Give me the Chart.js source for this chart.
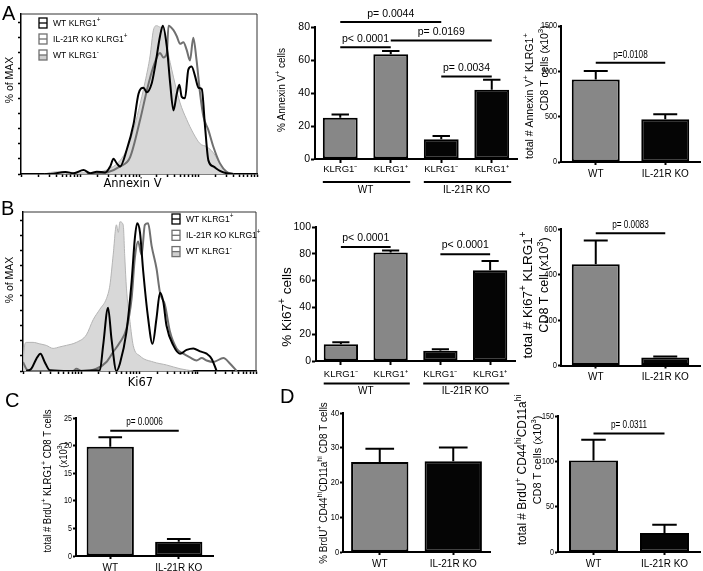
<!DOCTYPE html>
<html>
<head>
<meta charset="utf-8">
<script src="https://cdn.jsdelivr.net/npm/chart.js@4.4.1/dist/chart.umd.min.js"></script>
<style>
  html, body { margin: 0; padding: 0; background: #fff; }
  #wrap { position: relative; width: 703px; height: 571px; overflow: hidden; }
  #wrap canvas { position: absolute; left: 0; top: 0; }
</style>
</head>
<body>
<div id="wrap">
  <canvas id="histA" width="703" height="571"></canvas>
  <canvas id="annexinPct" width="703" height="571"></canvas>
  <canvas id="annexinTotal" width="703" height="571"></canvas>
  <canvas id="histB" width="703" height="571"></canvas>
  <canvas id="ki67Pct" width="703" height="571"></canvas>
  <canvas id="ki67Total" width="703" height="571"></canvas>
  <canvas id="brduTotal" width="703" height="571"></canvas>
  <canvas id="brduPct" width="703" height="571"></canvas>
  <canvas id="brduCd44Total" width="703" height="571"></canvas>
</div>
<script>
// ---- data ----
// flow histograms: [channel (0-1000, log display), % of max]
const annexinWtPos = [[100,0],[124,0],[188,1.3],[223,0.5],[265,2.6],[293,0.5],[321,1.5],[357,1],[378,5],[392,10],[406,7],[420,5],[448,16],[477,33],[498,53],[519,57],[533,54],[554,60],[568,71],[589,91],[601,98],[618,84],[632,60],[646,42],[660,53],[671,59],[681,51],[695,50],[709,69],[723,71],[737,65],[752,57],[766,56],[780,31],[794,9],[815,5],[843,2],[871,0.5],[900,0]]
const annexinKoPos = [[279,0],[364,1],[420,5],[462,11],[505,36],[533,55],[561,71],[589,80],[603,77],[618,80],[625,98],[646,95],[660,91],[674,86],[688,87],[702,82],[716,75],[730,90],[744,75],[759,53],[773,38],[794,29],[815,18],[843,7],[871,1.5],[900,0]]
const annexinWtNeg = [[100,0],[124,1],[166,1.5],[223,1],[279,0.7],[350,2],[392,5],[420,9],[448,16],[477,29],[498,42],[526,61],[547,78],[561,95],[575,98],[589,97],[603,96],[618,84],[646,64],[674,47],[702,36],[730,27],[759,20],[787,18],[815,14],[843,7],[871,1.5],[900,0]]

const ki67WtPos = [[14,0],[36,1.5],[57,8],[75,11.5],[93,6],[115,0.5],[201,0],[330,0.5],[344,17],[365,42],[380,21],[401,0],[416,5],[444,26],[466,59],[480,88],[490,98],[502,92],[516,66],[537,35],[556,18],[573,35],[588,52],[602,46],[616,30],[645,17],[674,11.5],[702,14],[731,15],[760,13],[788,11.5],[810,8],[831,0]]
const ki67KoPos = [[0,6],[14,1.5],[29,0],[215,0],[229,1.5],[251,0],[315,1.5],[358,6],[387,12.6],[416,19],[444,28],[466,48],[480,75],[494,86],[509,77],[523,97],[537,98],[552,83],[573,68],[588,52],[609,44],[631,26],[659,15],[688,11.5],[717,9],[745,7],[767,8.6],[788,7],[817,6],[860,8.6],[888,5],[917,0]]
const ki67WtNeg = [[0,0],[3,11.5],[14,19],[43,19],[72,18],[100,17],[129,15],[158,16],[186,17],[229,19],[272,24],[301,34],[330,41],[358,48],[373,57],[387,77],[401,97],[409,92],[416,99],[430,97],[437,75],[444,55],[459,33],[473,17],[502,10],[559,6],[616,4],[674,1.5],[731,0]]

const histLegend = ['WT KLRG1{+}', 'IL-21R KO KLRG1{+}', 'WT KLRG1{-}']
const histYTicks = [0, 10, 20, 30, 40, 50, 60, 70, 80, 90, 100]

// bar panels
const subsets = ['KLRG1⁻', 'KLRG1⁺', 'KLRG1⁻', 'KLRG1⁺']
const genotypes = ['WT', 'IL-21R KO']
const annexinPct = [25, 63.5, 12, 42]
const annexinPctErr = [2, 2, 2, 6]
const annexinPctTicks = [0, 20, 40, 60, 80]
const ki67Pct = [12.5, 81, 7.7, 67.7]
const ki67PctErr = [1.5, 1.5, 1, 7]
const ki67PctTicks = [0, 20, 40, 60, 80, 100]
const annexinTotal = [910, 472]
const annexinTotalErr = [95, 55]
const annexinTotalTicks = [0, 500, 1000, 1500]
const ki67Total = [445, 35]
const ki67TotalErr = [104, 5]
const ki67TotalTicks = [0, 200, 400, 600]
const brduTotal = [19.8, 2.6]
const brduTotalErr = [1.7, 0.5]
const brduTotalTicks = [0, 5, 10, 15, 20, 25]
const brduPct = [25.9, 26.1]
const brduPctErr = [3.8, 4]
const brduPctTicks = [0, 10, 20, 30, 40]
const brduCd44Total = [101, 21]
const brduCd44TotalErr = [22.7, 9]
const brduCd44TotalTicks = [0, 50, 100, 150]

// ---- drawing helpers ----
const W = 703, H = 571
const SANS = '"Liberation Sans", Arial, sans-serif'
const WIDE = '"DejaVu Sans", sans-serif'
const GREY = '#878787', DARK = '#050505'

// "V{+} cells" -> superscript segments
function richParts(str) {
  const parts = [], re = /\{([^}]*)\}/g
  let last = 0, m
  while ((m = re.exec(str))) {
    if (m.index > last) parts.push({ t: str.slice(last, m.index), sup: false })
    parts.push({ t: m[1], sup: true })
    last = re.lastIndex
  }
  if (last < str.length) parts.push({ t: str.slice(last), sup: false })
  return parts
}

// text with superscripts; sx < 1 squeezes it like a narrow face
function drawRich(ctx, str, x, y, size, family, o = {}) {
  const parts = richParts(str)
  const fN = `${size}px ${family}`, fS = `${Math.round(size * 0.72)}px ${family}`
  let w = 0
  parts.forEach(p => { ctx.font = p.sup ? fS : fN; p.w = ctx.measureText(p.t).width; w += p.w })
  ctx.save()
  ctx.translate(x, y)
  if (o.rotate) ctx.rotate(-Math.PI / 2)
  if (o.sx) ctx.scale(o.sx, 1)
  let cx = o.align === 'left' ? 0 : o.align === 'right' ? -w : -w / 2
  ctx.textAlign = 'left'
  ctx.textBaseline = o.baseline || 'middle'
  ctx.fillStyle = '#000'
  parts.forEach(p => {
    ctx.font = p.sup ? fS : fN
    ctx.fillText(p.t, cx, p.sup ? -size * 0.36 : 0)
    cx += p.w
  })
  ctx.restore()
}

const errorBars = {
  id: 'errorBars',
  afterDatasetsDraw(chart) {
    const ds = chart.data.datasets[0]
    if (!ds.errors) return
    const meta = chart.getDatasetMeta(0), y = chart.scales.y, ctx = chart.ctx
    ctx.save()
    ctx.strokeStyle = '#000'
    ctx.lineWidth = 2
    meta.data.forEach((bar, i) => {
      const top = y.getPixelForValue(ds.data[i] + ds.errors[i])
      const half = bar.width * 0.25
      ctx.beginPath()
      ctx.moveTo(bar.x, bar.y); ctx.lineTo(bar.x, top)
      ctx.moveTo(bar.x - half, top); ctx.lineTo(bar.x + half, top)
      ctx.stroke()
    })
    ctx.restore()
  }
}

// p-value lines, group bars under the axis, y labels, free text, histogram legend & frame
const annotate = {
  id: 'annotate',
  afterDraw(chart, args, opts) {
    const ctx = chart.ctx, xs = chart.scales.x, ys = chart.scales.y, area = chart.chartArea
    ctx.save()
    ctx.strokeStyle = '#000'
    if (opts.frame) {
      ctx.lineWidth = 1
      ctx.strokeStyle = '#333'
      ctx.beginPath()
      ctx.moveTo(area.left, area.top); ctx.lineTo(area.right, area.top); ctx.lineTo(area.right, area.bottom)
      ctx.stroke()
      ctx.strokeStyle = '#000'
    }
    if (opts.yLabels) {
      const Y = opts.yLabels
      ys.ticks.forEach(t => drawRich(ctx, String(t.value), area.left - Y.gap, ys.getPixelForValue(t.value), Y.size, SANS, { align: 'right', sx: Y.sx }))
    }
    ;(opts.brackets || []).forEach(b => {
      const x1 = xs.getPixelForValue(b.from), x2 = xs.getPixelForValue(b.to), yy = ys.getPixelForValue(b.y)
      ctx.lineWidth = 2
      ctx.beginPath(); ctx.moveTo(x1, yy); ctx.lineTo(x2, yy); ctx.stroke()
      drawRich(ctx, b.text, (x1 + x2) / 2, yy - opts.pGap, opts.pSize, SANS, { sx: opts.pSx })
    })
    if (opts.groups) {
      const meta = chart.getDatasetMeta(0)
      opts.groups.labels.forEach((label, g) => {
        const [a, b] = opts.groups.spans[g]
        const x1 = meta.data[a].x - meta.data[a].width / 2, x2 = meta.data[b].x + meta.data[b].width / 2
        const yy = area.bottom + opts.groups.line
        ctx.lineWidth = 2
        ctx.beginPath(); ctx.moveTo(x1, yy); ctx.lineTo(x2 + 2, yy); ctx.stroke()
        drawRich(ctx, label, (x1 + x2) / 2, area.bottom + opts.groups.text, opts.groups.size, SANS)
      })
    }
    if (opts.legend) {
      const L = opts.legend
      L.items.forEach((it, i) => {
        const y = L.y + i * L.step
        ctx.fillStyle = '#fff'
        ctx.fillRect(L.x, y - 5, 8, 10)
        if (it.fill) { ctx.fillStyle = it.fill; ctx.fillRect(L.x, y, 8, 5) }
        ctx.strokeStyle = it.color
        ctx.lineWidth = 1.3
        ctx.strokeRect(L.x, y - 5, 8, 10)
        ctx.beginPath(); ctx.moveTo(L.x, y); ctx.lineTo(L.x + 8, y); ctx.stroke()
        drawRich(ctx, it.text, L.x + 14, y, L.size, SANS, { align: 'left', sx: L.sx })
      })
    }
    ;(opts.texts || []).forEach(t => drawRich(ctx, t.text, t.x, t.y, t.size, t.font || SANS, t))
    ctx.restore()
  }
}

function axisStyle(tickLen, width) {
  return {
    grid: { display: true, drawOnChartArea: false, drawTicks: true, tickLength: tickLen, color: '#000', tickColor: '#000', tickWidth: width, offset: false },
    border: { display: true, color: '#000', width: width }
  }
}

function barChart(id, c) {
  const a = c.area
  return new Chart(document.getElementById(id), {
    type: 'bar',
    data: {
      labels: c.labels,
      datasets: [{
        data: c.values, errors: c.errors,
        backgroundColor: c.colors, borderColor: '#000', borderWidth: 2, borderSkipped: false,
        barPercentage: c.barPct || 0.69, categoryPercentage: 1
      }]
    },
    options: {
      responsive: false, animation: false, events: [],
      layout: { padding: { top: a.t, right: W - a.r, left: 0, bottom: 0 } },
      plugins: { legend: { display: false }, tooltip: { enabled: false }, annotate: { yLabels: c.yLab, ...c.notes } },
      scales: {
        x: {
          ...axisStyle(c.xTick || 4, 2),
          afterFit: s => { s.height = H - a.b },
          ticks: { color: '#000', padding: c.xPad || 1, maxRotation: 0, font: { family: SANS, size: c.xSize || 10 } }
        },
        y: {
          ...axisStyle(c.yTick || 4, 2),
          min: 0, max: c.ticks[c.ticks.length - 1],
          afterFit: s => { s.width = a.l },
          afterBuildTicks: s => { s.ticks = c.ticks.map(v => ({ value: v })) },
          ticks: { display: false }
        }
      }
    },
    plugins: [errorBars, annotate]
  })
}

// log-decade tick marks for the flow axis (channel 0-1000 = 4 decades)
const logTicks = []
for (let d = 0; d < 4; d++) for (let k = 1; k < 10; k++) logTicks.push(250 * (d + Math.log10(k)))
logTicks.push(1000)

function histChart(id, c) {
  const a = c.area
  const line = (data, color, fill, w) => ({
    data, borderColor: color, borderWidth: w, backgroundColor: fill || 'transparent', fill: fill ? 'origin' : false,
    pointRadius: 0, cubicInterpolationMode: 'monotone'
  })
  return new Chart(document.getElementById(id), {
    type: 'line',
    data: {
      datasets: [
        line(c.wtPos, '#000', null, 2),
        line(c.koPos, '#707070', null, 2),
        line(c.wtNeg, '#b4b4b4', '#d8d8d8', 1)
      ]
    },
    options: {
      responsive: false, animation: false, events: [],
      layout: { padding: { top: a.t, right: W - a.r, left: 0, bottom: 0 } },
      plugins: { legend: { display: false }, tooltip: { enabled: false }, annotate: c.notes },
      scales: {
        x: {
          type: 'linear', min: 0, max: 1000,
          ...axisStyle(3, 1.5),
          afterFit: s => { s.height = H - a.b },
          afterBuildTicks: s => { s.ticks = logTicks.map(v => ({ value: v })) },
          ticks: { display: false }
        },
        y: {
          min: 0, max: c.yMax,
          ...axisStyle(3, 1.5),
          afterFit: s => { s.width = a.l },
          afterBuildTicks: s => { s.ticks = histYTicks.map(v => ({ value: v })) },
          ticks: { display: false }
        }
      }
    },
    plugins: [annotate]
  })
}

const legendItems = [
  { text: histLegend[0], color: '#000' },
  { text: histLegend[1], color: '#707070' },
  { text: histLegend[2], color: '#707070', fill: '#cfcfcf' }
]

// ---- panel A ----
histChart('histA', {
  area: { l: 21, r: 257, t: 14, b: 174 }, yMax: 105.7,
  wtPos: annexinWtPos, koPos: annexinKoPos, wtNeg: annexinWtNeg,
  notes: {
    frame: true,
    legend: { x: 39, y: 23, step: 16, size: 9.5, sx: 0.9, items: legendItems },
    texts: [
      { text: 'A', x: 2, y: 19.5, size: 20, align: 'left', baseline: 'alphabetic' },
      { text: '% of MAX', x: 10, y: 80, size: 10.5, rotate: true },
      { text: 'Annexin V', x: 132.5, y: 184, size: 11.5, font: WIDE }
    ]
  }
})

barChart('annexinPct', {
  area: { l: 315, r: 517, t: 27, b: 159 },
  labels: subsets, values: annexinPct, errors: annexinPctErr, ticks: annexinPctTicks,
  colors: [GREY, GREY, DARK, DARK], xSize: 9.5,
  yLab: { size: 10.5, gap: 5 },
  notes: {
    pGap: 8, pSize: 10.5,
    brackets: [
      { from: 0, to: 2, y: 83, text: 'p= 0.0044' },
      { from: 0, to: 1, y: 67.7, text: 'p< 0.0001' },
      { from: 1, to: 3, y: 71.8, text: 'p= 0.0169' },
      { from: 2, to: 3, y: 50, text: 'p= 0.0034' }
    ],
    groups: { labels: genotypes, spans: [[0, 1], [2, 3]], line: 23, text: 31, size: 10 },
    texts: [{ text: '% Annexin V{+} cells', x: 282, y: 90, size: 10, rotate: true }]
  }
})

barChart('annexinTotal', {
  area: { l: 561, r: 700, t: 26, b: 162 },
  labels: genotypes, values: annexinTotal, errors: annexinTotalErr, ticks: annexinTotalTicks,
  colors: [GREY, DARK], xTick: 3, xPad: 3, yTick: 3,
  yLab: { size: 9, sx: 0.8, gap: 4 },
  notes: {
    pGap: 8, pSize: 10, pSx: 0.82,
    brackets: [{ from: 0, to: 1, y: 1094, text: 'p=0.0108' }],
    texts: [
      { text: 'total # Annexin V{+} KLRG1{+}', x: 530, y: 96, size: 10.5, rotate: true },
      { text: 'CD8 T cells (x10{3})', x: 545, y: 68, size: 10.5, rotate: true }
    ]
  }
})

// ---- panel B ----
histChart('histB', {
  area: { l: 23, r: 256, t: 212, b: 371 }, yMax: 105.5,
  wtPos: ki67WtPos, koPos: ki67KoPos, wtNeg: ki67WtNeg,
  notes: {
    frame: true,
    legend: { x: 172, y: 219, step: 16.3, size: 9.5, sx: 0.9, items: legendItems },
    texts: [
      { text: 'B', x: 1, y: 215, size: 20, align: 'left', baseline: 'alphabetic' },
      { text: '% of MAX', x: 10, y: 280, size: 10.5, rotate: true },
      { text: 'Ki67', x: 140.5, y: 383.5, size: 11.5, font: WIDE }
    ]
  }
})

barChart('ki67Pct', {
  area: { l: 316, r: 515, t: 227, b: 361 },
  labels: subsets, values: ki67Pct, errors: ki67PctErr, ticks: ki67PctTicks,
  colors: [GREY, GREY, DARK, DARK], xSize: 9.5, xPad: 4,
  yLab: { size: 10.5, gap: 5 },
  notes: {
    pGap: 9, pSize: 10.5,
    brackets: [
      { from: 0, to: 1, y: 85, text: 'p< 0.0001' },
      { from: 2, to: 3, y: 79.6, text: 'p< 0.0001' }
    ],
    groups: { labels: genotypes, spans: [[0, 1], [2, 3]], line: 22.5, text: 30, size: 10 },
    texts: [{ text: '% Ki67{+} cells', x: 287, y: 307, size: 13.5, rotate: true }]
  }
})

barChart('ki67Total', {
  area: { l: 561, r: 700, t: 229, b: 365.5 },
  labels: genotypes, values: ki67Total, errors: ki67TotalErr, ticks: ki67TotalTicks,
  colors: [GREY, DARK], xTick: 3, xPad: 3, yTick: 3,
  yLab: { size: 9.5, sx: 0.8, gap: 4 },
  notes: {
    pGap: 8, pSize: 10, pSx: 0.82,
    brackets: [{ from: 0, to: 1, y: 581, text: 'p= 0.0083' }],
    texts: [
      { text: 'total # Ki67{+} KLRG1{+}', x: 528, y: 295, size: 13.5, rotate: true },
      { text: 'CD8 T cell (x10{3})', x: 545, y: 285, size: 12.5, rotate: true }
    ]
  }
})

// ---- panel C ----
barChart('brduTotal', {
  area: { l: 76, r: 213, t: 418, b: 556 },
  labels: genotypes, values: brduTotal, errors: brduTotalErr, ticks: brduTotalTicks,
  colors: [GREY, DARK], xTick: 3, xPad: 3, yTick: 3,
  yLab: { size: 9.5, sx: 0.75, gap: 4 },
  notes: {
    pGap: 8, pSize: 10, pSx: 0.82,
    brackets: [{ from: 0, to: 1, y: 22.7, text: 'p= 0.0006' }],
    texts: [
      { text: 'C', x: 5, y: 407, size: 20, align: 'left', baseline: 'alphabetic' },
      { text: 'total # BrdU{+} KLRG1{+} CD8 T cells', x: 47.5, y: 481, size: 11, sx: 0.86, rotate: true },
      { text: '(x10{3})', x: 64, y: 455, size: 11, sx: 0.86, rotate: true }
    ]
  }
})

// ---- panel D ----
barChart('brduPct', {
  area: { l: 343, r: 490, t: 413, b: 552 },
  labels: genotypes, values: brduPct, errors: brduPctErr, ticks: brduPctTicks,
  colors: [GREY, DARK], xTick: 3, xPad: 3, barPct: 0.78, yTick: 3,
  yLab: { size: 9.5, sx: 0.78, gap: 4 },
  notes: {
    texts: [
      { text: 'D', x: 280, y: 403, size: 20, align: 'left', baseline: 'alphabetic' },
      { text: '% BrdU{+} CD44{hi}CD11a{hi} CD8 T cells', x: 324, y: 483, size: 11, sx: 0.9, rotate: true }
    ]
  }
})

barChart('brduCd44Total', {
  area: { l: 558, r: 700, t: 416, b: 552 },
  labels: genotypes, values: brduCd44Total, errors: brduCd44TotalErr, ticks: brduCd44TotalTicks,
  colors: [GREY, DARK], xTick: 3, xPad: 3, yTick: 3,
  yLab: { size: 9.5, sx: 0.75, gap: 4 },
  notes: {
    pGap: 8, pSize: 10, pSx: 0.82,
    brackets: [{ from: 0, to: 1, y: 130.8, text: 'p= 0.0311' }],
    texts: [
      { text: 'total # BrdU{+} CD44{hi}CD11a{hi}', x: 523, y: 470, size: 12.5, sx: 0.95, rotate: true },
      { text: 'CD8 T cells (x10{3})', x: 538, y: 460, size: 11.5, sx: 0.95, rotate: true }
    ]
  }
})
</script>
</body>
</html>
